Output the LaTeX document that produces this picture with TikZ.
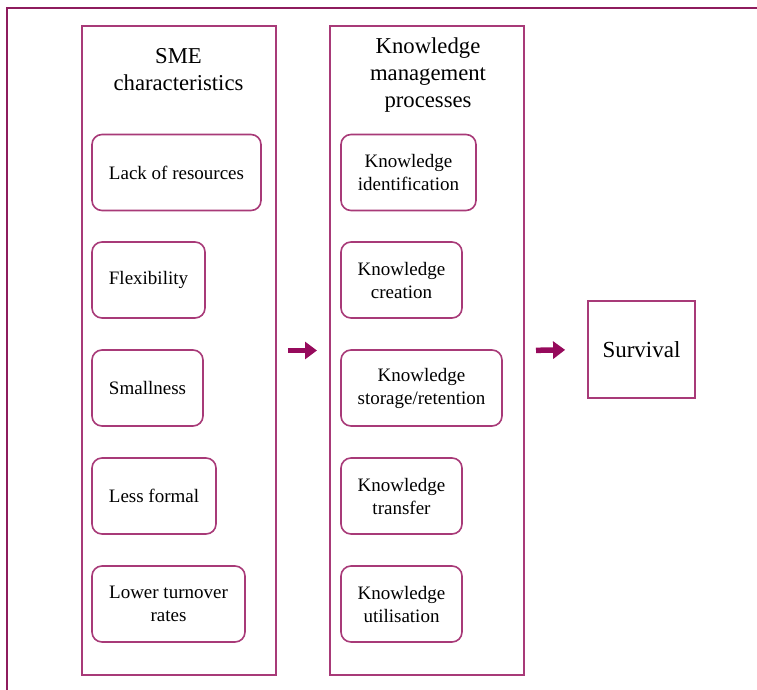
\documentclass[tikz,border=0pt]{standalone}
\usepackage{fontspec}
\setmainfont{Liberation Serif}
\usetikzlibrary{arrows.meta}
\definecolor{kmframe}{RGB}{142,28,94}
\definecolor{kmline}{RGB}{168,58,120}
\definecolor{kmarrow}{RGB}{150,10,92}
\tikzset{
  panel/.style={draw=kmline, line width=2pt, rectangle, minimum width=194pt, minimum height=649pt},
  item/.style={draw=kmline, line width=1.6pt, rectangle, rounded corners=10pt, minimum height=76pt,
    align=center, font=\fontsize{19}{23}\selectfont},
  heading/.style={align=center, font=\fontsize{22.7}{27}\selectfont},
  bigarrow/.style={kmarrow, line width=5.5pt, -{Triangle[length=12pt,width=17pt]}}
}
\begin{document}
\begin{tikzpicture}[x=1pt,y=-1pt]
    \useasboundingbox (0,0) rectangle (757,690);
    \clip (0,0) rectangle (757,690);
    \draw[kmframe, line width=2.5pt] (7,8) rectangle (790,720);

    \node[panel] at (178.8,350.5) (sme) {};
    \node[panel] at (427,350.5) (km) {};
    \node[heading] at (178.5,69.5) (smetitle) {SME\\characteristics};
    \node[heading] at (428,75.5) (kmtitle) {Knowledge\\management\\processes};

    \node[item, minimum width=169pt] at (176.5,172.5) (lack) {Lack of resources};
    \node[item, minimum width=113pt] at (148.5,280) (flex) {Flexibility};
    \node[item, minimum width=111pt] at (147.5,388) (small) {Smallness};
    \node[item, minimum width=124pt] at (154,496) (formal) {Less formal};
    \node[item, minimum width=153pt] at (168.5,604) (turnover) {Lower turnover\\rates};

    \node[item, minimum width=135pt] at (408.5,172.5) (ident) {Knowledge\\identification};
    \node[item, minimum width=121pt] at (401.5,280) (create) {Knowledge\\creation};
    \node[item, minimum width=161pt] at (421.5,388) (storage) {Knowledge\\storage/retention};
    \node[item, minimum width=121pt] at (401.5,496) (transfer) {Knowledge\\transfer};
    \node[item, minimum width=121pt] at (401.5,604) (utilise) {Knowledge\\utilisation};

    \node[draw=kmline, line width=1.8pt, minimum width=107pt, minimum height=97pt,
      font=\fontsize{23}{27}\selectfont] at (641.5,349.5) (survival) {Survival};

    \draw[bigarrow, shorten <=11pt, shorten >=12pt] (sme.east) -- (km.west);
    \draw[bigarrow, shorten <=11pt, shorten >=22pt] (km.east) -- (survival.west);
\end{tikzpicture}
\end{document}
